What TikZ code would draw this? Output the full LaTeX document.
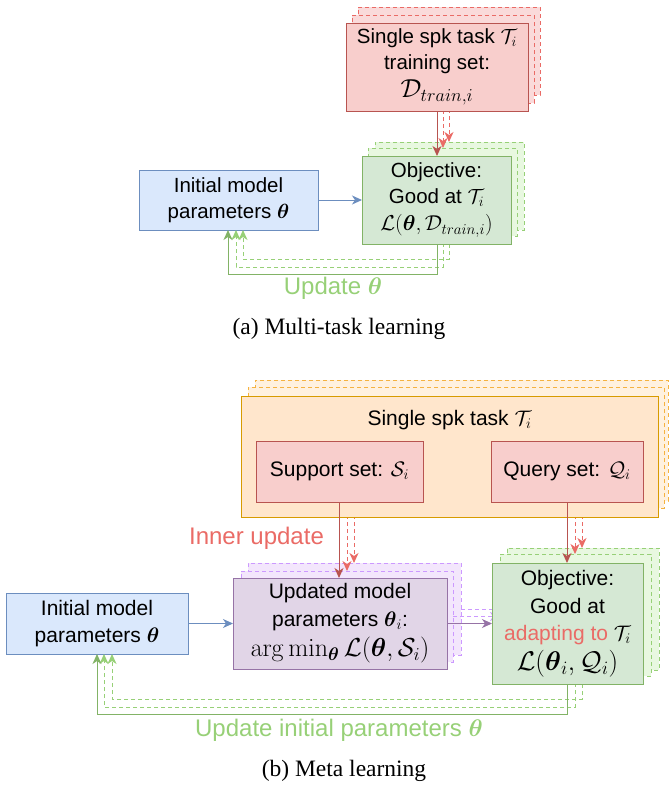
\RequirePackage{fix-cm}
\documentclass[tikz,border=0pt]{standalone}
\usepackage{amsmath,amssymb}
\usepackage[no-math]{fontspec}
\setmainfont{Liberation Sans}
\newfontfamily\capfont{Liberation Serif}
\usetikzlibrary{arrows.meta}
\definecolor{redS}{HTML}{B85450}
\definecolor{redF}{HTML}{F8CECC}
\definecolor{redD}{HTML}{EA6B66}
\definecolor{redBF}{HTML}{FADADA}
\definecolor{grnS}{HTML}{82B366}
\definecolor{grnF}{HTML}{D5E8D4}
\definecolor{grnD}{HTML}{97D077}
\definecolor{grnBF}{HTML}{E8F8E0}
\definecolor{bluS}{HTML}{6C8EBF}
\definecolor{bluF}{HTML}{DAE8FC}
\definecolor{purS}{HTML}{9673A6}
\definecolor{purF}{HTML}{E1D5E7}
\definecolor{purD}{HTML}{CC99FF}
\definecolor{purBF}{HTML}{F3E6FC}
\definecolor{oraS}{HTML}{D79B00}
\definecolor{oraF}{HTML}{FFE6CC}
\definecolor{oraD}{HTML}{F5B240}
\definecolor{oraBF}{HTML}{FFF1DF}
\newcommand\bx[7]{\node[#2, minimum width={#5pt-#3pt}, minimum height={#6pt-#4pt}] (#1) at (#3,#4) {#7};}
\newcommand\mathsz[2]{{\fontsize{#1}{#1}\selectfont$#2$}}
\tikzset{
  box/.style={draw, line width=1pt, align=center, inner sep=2pt, outer sep=0pt, anchor=north west},
  dsh/.style={dash pattern=on 4pt off 3pt},
  fa/.style={font=\fontsize{20.5}{26}\selectfont},
  fb/.style={font=\fontsize{21}{27.5}\selectfont},
  lab/.style={font=\fontsize{24}{28}\selectfont, inner sep=0pt},
  captext/.style={font=\capfont\fontsize{23.5}{28}\selectfont, inner sep=0pt},
  redbox/.style={box, fill=redF, draw=redS},
  redback/.style={box, dsh, fill=redBF, draw=redD},
  grnbox/.style={box, fill=grnF, draw=grnS},
  grnback/.style={box, dsh, fill=grnBF, draw=grnD},
  blubox/.style={box, fill=bluF, draw=bluS},
  purbox/.style={box, fill=purF, draw=purS},
  purback/.style={box, dsh, fill=purBF, draw=purD},
  orabox/.style={box, fill=oraF, draw=oraS},
  oraback/.style={box, dsh, fill=oraBF, draw=oraD},
  arrtip/.style={-{Stealth[length=10pt,width=9pt,inset=3pt]}},
  conn/.style={arrtip, line width=1pt},
  rsol/.style={conn, draw=redS},
  rdash/.style={conn, dsh, draw=redD},
  gsol/.style={conn, draw=grnS},
  gdash/.style={conn, dsh, draw=grnD},
  bsol/.style={conn, draw=bluS},
  psol/.style={conn, draw=purS},
  pdash/.style={conn, dsh, draw=purD},
}
\begin{document}
\begin{tikzpicture}[x=1pt,y=-1pt]
\useasboundingbox (0,0) rectangle (669,788);
% guide coordinates
\coordinate (xa0) at (437,0); \coordinate (xa1) at (443,0); \coordinate (xa2) at (449,0);
\coordinate (xs0) at (339,0); \coordinate (xs1) at (347,0); \coordinate (xs2) at (354,0);
\coordinate (xq0) at (567,0); \coordinate (xq1) at (575,0); \coordinate (xq2) at (582,0);
\coordinate (la0) at (228,274); \coordinate (la1) at (236,267); \coordinate (la2) at (243,259);
\coordinate (lb0) at (97,714); \coordinate (lb1) at (104,707); \coordinate (lb2) at (112,699);
% back copies (a)
\bx{rB2}{redback}{358}{7}{540}{95}{}
\bx{rB1}{redback}{352}{15}{534}{103}{}
\bx{gaB2}{grnback}{375}{142}{524}{230}{}
\bx{gaB1}{grnback}{368}{148}{517}{236}{}
% back copies (b)
\bx{oB2}{oraback}{255}{380}{668}{501}{}
\bx{oB1}{oraback}{248}{387}{664}{508}{}
\bx{pB2}{purback}{248}{563}{461}{655}{}
\bx{pB1}{purback}{241}{571}{453}{662}{}
\bx{gbB2}{grnback}{507}{548}{659}{670}{}
\bx{gbB1}{grnback}{500}{554}{651}{676}{}
% blue boxes
\bx{bA}{blubox,fa}{139}{170}{318}{230}{Initial model\\parameters $\boldsymbol{\theta}$}
\bx{bB}{blubox,fb}{6}{593}{188}{654}{Initial model\\parameters $\boldsymbol{\theta}$}
% dashed connectors (a)
\draw[rdash] (xa1 |- rB1.south) -- (xa1 |- gaB1.north);
\draw[rdash] (xa2 |- rB2.south) -- (xa2 |- gaB2.north);
\draw[gdash] (xa1 |- gaB1.south) |- (la1) -- (la1 |- bA.south);
\draw[gdash] (xa2 |- gaB2.south) |- (la2) -- (la2 |- bA.south);
% dashed connectors (b)
\draw[rdash] (xs1 |- oB1.south) -- (xs1 |- pB1.north);
\draw[rdash] (xs2 |- oB2.south) -- (xs2 |- pB2.north);
\draw[rdash] (xq1 |- oB1.south) -- (xq1 |- gbB1.north);
\draw[rdash] (xq2 |- oB2.south) -- (xq2 |- gbB2.north);
\draw[pdash] (pB1.east) -- (pB1.east -| gbB1.west);
\draw[pdash] (pB2.east) -- (pB2.east -| gbB2.west);
\draw[gdash] (xq1 |- gbB1.south) |- (lb1) -- (lb1 |- bB.south);
\draw[gdash] (xq2 |- gbB2.south) |- (lb2) -- (lb2 |- bB.south);
% front boxes (a)
\bx{rA}{redbox,fa}{346}{23}{528}{111}{Single spk task $\mathcal{T}_i$\\training set:\\[2pt]\mathsz{26}{\mathcal{D}_{train,i}}}
\bx{gA}{grnbox,fa}{362}{156}{511}{244}{Objective:\\Good at $\mathcal{T}_i$\\[1pt]\mathsz{21.5}{\mathcal{L}(\boldsymbol{\theta},\mathcal{D}_{train,i})}}
% front boxes (b)
\bx{oF}{orabox}{241}{396}{658}{517}{}
\node[fb, inner sep=0pt] (oT) at (449.5,420) {Single spk task $\mathcal{T}_i$};
\bx{sup}{redbox,fb}{256}{441}{423}{502}{Support set: $\mathcal{S}_i$}
\bx{qry}{redbox,fb}{491}{441}{643}{502}{Query set: $\mathcal{Q}_i$}
\bx{pF}{purbox,fb}{233}{578}{447}{669}{Updated model\\parameters $\boldsymbol{\theta}_i$:\\[3pt]\mathsz{26}{\arg\min_{\boldsymbol{\theta}}\mathcal{L}(\boldsymbol{\theta},\mathcal{S}_i)}}
\bx{gbF}{grnbox,fb}{492}{563}{643}{684}{Objective:\\Good at\\{\color{redD}adapting to} $\mathcal{T}_i$\\[2pt]\mathsz{27}{\mathcal{L}(\boldsymbol{\theta}_i,\mathcal{Q}_i)}}
% solid connectors (a)
\draw[rsol] (xa0 |- rA.south) -- (xa0 |- gA.north);
\draw[bsol] (bA.east) -- (bA.east -| gA.west);
\draw[gsol] (xa0 |- gA.south) |- (la0) -- (la0 |- bA.south);
% solid connectors (b)
\draw[rsol] (xs0 |- sup.south) -- (xs0 |- pF.north);
\draw[rsol] (xq0 |- qry.south) -- (xq0 |- gbF.north);
\draw[bsol] (bB.east) -- (bB.east -| pF.west);
\draw[psol] (pF.east) -- (pF.east -| gbF.west);
\draw[gsol] (xq0 |- gbF.south) |- (lb0) -- (lb0 |- bB.south);
% labels
\node[lab, text=grnD] (updA) at (333,288) {Update $\boldsymbol{\theta}$};
\node[lab, text=redD] (inner) at (256.5,538) {Inner update};
\node[lab, text=grnD] (updB) at (339,730) {Update initial parameters $\boldsymbol{\theta}$};
\node[captext] (capA) at (339,329) {(a) Multi-task learning};
\node[captext] (capB) at (344,771) {(b) Meta learning};
\end{tikzpicture}
\end{document}
